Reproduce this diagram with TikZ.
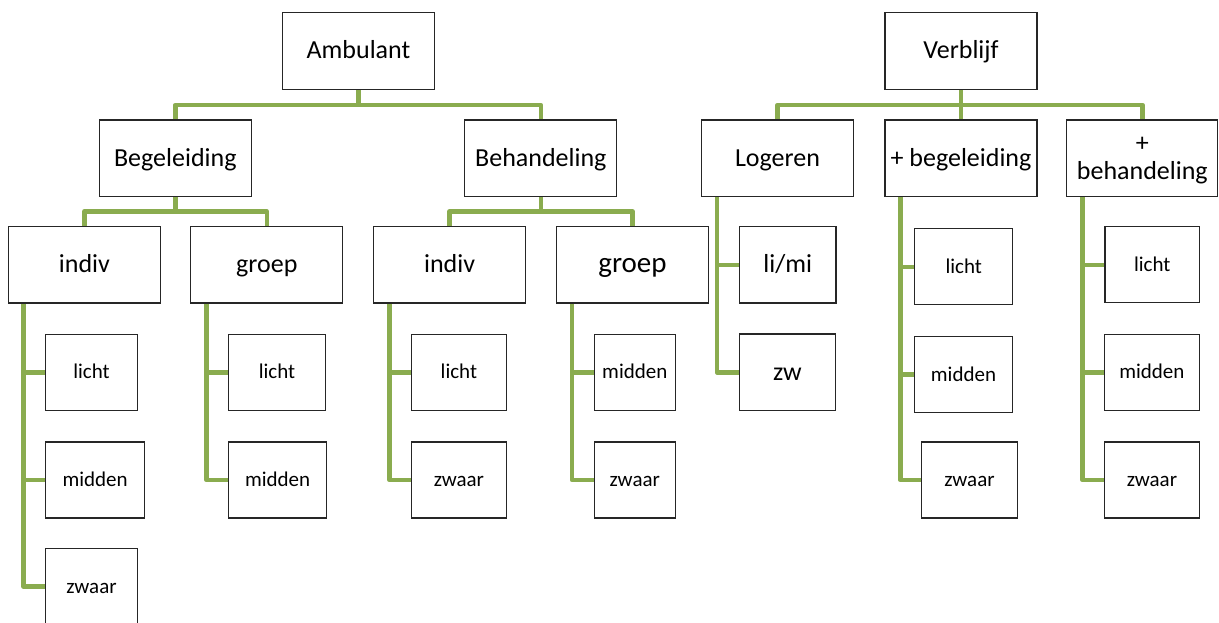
\documentclass[tikz,border=0pt]{standalone}
\usepackage{fontspec}
\setmainfont{Carlito}
\usepackage{tikz}
\definecolor{lgreen}{HTML}{8AAC4F}
\tikzstyle{none}=[inner sep=0pt]
\tikzstyle{category}=[rectangle,fill=white,draw=black!85,line width=1.2pt,inner sep=0pt,align=center,minimum width=152pt,minimum height=76.5pt,text height=20pt,text depth=4pt,font=\fontsize{26}{28.5}\selectfont]
\tikzstyle{leaf}=[rectangle,fill=white,draw=black!85,line width=1.2pt,inner sep=0pt,minimum height=76pt,text height=16.5pt,text depth=3.5pt,font=\fontsize{21}{25}\selectfont]
\tikzstyle{simple}=[-,draw=lgreen,line width=4.6pt,line join=round]
\pgfdeclarelayer{edgelayer}
\pgfdeclarelayer{nodelayer}
\pgfsetlayers{edgelayer,nodelayer,main}
\begin{document}
\begin{tikzpicture}[x=1pt,y=-1pt]
	\useasboundingbox (0,0) rectangle (1219,623);
	\begin{pgfonlayer}{nodelayer}
		\node [style=category] (0) at (358.5, 51) {Ambulant};
		\node [style=category] (1) at (961, 51) {Verblijf};
		\node [style=category] (2) at (175.3, 158.3) {Begeleiding};
		\node [style=category] (3) at (540.8, 158.3) {Behandeling};
		\node [style=category] (4) at (777.5, 158.3) {Logeren};
		\node [style=category] (5) at (961, 158.3) {+ begeleiding};
		\node [style=category, minimum width=151pt, text height=47.4pt, text depth=4pt] (6) at (1142.3, 158.3) {+\\behandeling};
		\node [style=category] (7) at (84.4, 264.8) {indiv};
		\node [style=category] (8) at (266.8, 264.8) {groep};
		\node [style=category] (9) at (449.6, 264.8) {indiv};
		\node [style=category, font=\fontsize{29}{34}\selectfont] (10) at (632.5, 264.8) {groep};
		\node [style=category, minimum width=96.5pt] (11) at (787.7, 264.8) {li/mi};
		\node [style=leaf, minimum width=98pt] (12) at (963.7, 266.8) {licht};
		\node [style=leaf, minimum width=94.5pt] (13) at (1152.2, 264.8) {licht};
		\node [style=leaf, minimum width=92pt] (14) at (91.5, 372.2) {licht};
		\node [style=leaf, minimum width=99pt] (15) at (95.1, 480) {midden};
		\node [style=leaf, minimum width=92pt] (16) at (91.5, 586.6) {zwaar};
		\node [style=leaf, minimum width=97pt] (17) at (277, 372.2) {licht};
		\node [style=leaf, minimum width=98pt] (18) at (277.6, 480) {midden};
		\node [style=leaf, minimum width=95.3pt] (19) at (458.9, 372.2) {licht};
		\node [style=leaf, minimum width=95.3pt] (20) at (458.9, 480) {zwaar};
		\node [style=leaf, minimum width=81pt] (21) at (634.8, 372.2) {midden};
		\node [style=leaf, minimum width=81pt] (22) at (634.8, 480) {zwaar};
		\node [style=category, minimum width=96.3pt] (23) at (787.5, 372.2) {zw};
		\node [style=leaf, minimum width=98.3pt] (24) at (963.5, 374.5) {midden};
		\node [style=leaf, minimum width=95.6pt] (25) at (969.5, 480) {zwaar};
		\node [style=leaf, minimum width=94.8pt] (26) at (1151.9, 372.2) {midden};
		\node [style=leaf, minimum width=94.8pt] (27) at (1151.9, 480) {zwaar};
		\node [style=none] (28) at (358.5, 105) {};
		\node [style=none] (29) at (961, 105) {};
		\node [style=none] (30) at (175.3, 211.3) {};
		\node [style=none] (31) at (540.8, 211.3) {};
		\node [style=none] (32) at (23.7, 303) {};
		\node [style=none] (33) at (206.4, 303) {};
		\node [style=none] (34) at (389.5, 303) {};
		\node [style=none] (35) at (572, 303) {};
		\node [style=none] (36) at (717, 196) {};
		\node [style=none] (37) at (900.3, 196) {};
		\node [style=none] (38) at (1082.6, 196) {};
	\end{pgfonlayer}
	\begin{pgfonlayer}{edgelayer}
		\draw [style=simple] (0) to (28.center);
		\draw [style=simple] (28.center) -| (2);
		\draw [style=simple] (28.center) -| (3);
		\draw [style=simple] (1) to (29.center);
		\draw [style=simple] (29.center) -| (4);
		\draw [style=simple] (29.center) to (5);
		\draw [style=simple] (29.center) -| (6);
		\draw [style=simple] (2) to (30.center);
		\draw [style=simple] (30.center) -| (7);
		\draw [style=simple] (30.center) -| (8);
		\draw [style=simple] (3) to (31.center);
		\draw [style=simple] (31.center) -| (9);
		\draw [style=simple] (31.center) -| (10);
		\draw [style=simple] (32.center) |- (14);
		\draw [style=simple] (32.center) |- (15);
		\draw [style=simple] (32.center) |- (16);
		\draw [style=simple] (33.center) |- (17);
		\draw [style=simple] (33.center) |- (18);
		\draw [style=simple] (34.center) |- (19);
		\draw [style=simple] (34.center) |- (20);
		\draw [style=simple] (35.center) |- (21);
		\draw [style=simple] (35.center) |- (22);
		\draw [style=simple] (36.center) |- (11);
		\draw [style=simple] (36.center) |- (23);
		\draw [style=simple] (37.center) |- (12);
		\draw [style=simple] (37.center) |- (24);
		\draw [style=simple] (37.center) |- (25);
		\draw [style=simple] (38.center) |- (13);
		\draw [style=simple] (38.center) |- (26);
		\draw [style=simple] (38.center) |- (27);
	\end{pgfonlayer}
\end{tikzpicture}
\end{document}
